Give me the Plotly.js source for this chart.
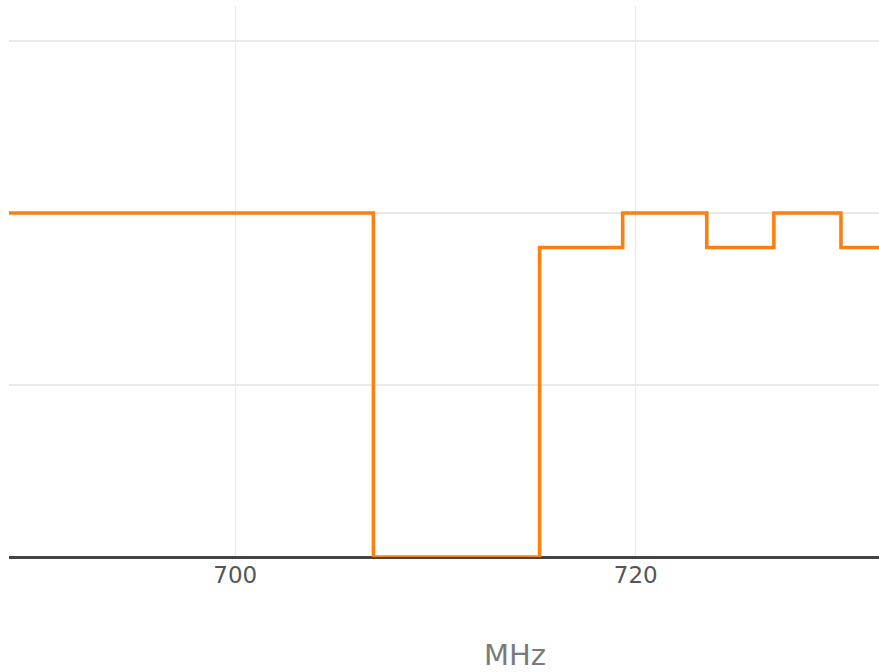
<!DOCTYPE html>
<html>
<head>
<meta charset="utf-8">
<script src="https://cdn.plot.ly/plotly-3.0.1.min.js"></script>
<style>html,body{margin:0;padding:0;background:#fff;}#chart{width:879px;height:672px;}</style>
</head>
<body>
<div id="chart"></div>
<script>
// Step edges (MHz) and levels
const freqMHz = [688, 706.9, 715.2, 719.35, 723.55, 726.9, 730.25, 734];
const level   = [10, 0, 9, 10, 9, 10, 9, 9];
const xTickVals = [700, 720];
const xTickText = ["700", "720"];
const xAxisTitle = "MHz";

const trace = {
  x: freqMHz,
  y: level,
  type: 'scatter',
  mode: 'lines',
  line: {shape: 'hv', color: '#ff7f0e', width: 3.6},
  hoverinfo: 'x+y'
};

const layout = {
  width: 879,
  height: 672,
  margin: {l: 9, r: 0, t: 6, b: 115},
  paper_bgcolor: '#fff',
  plot_bgcolor: '#fff',
  showlegend: false,
  font: {family: 'DejaVu Sans, Verdana, sans-serif'},
  xaxis: {
    range: [688.7, 732.15],
    tickvals: xTickVals,
    ticktext: xTickText,
    showgrid: true,
    gridcolor: '#e9e9e9',
    gridwidth: 1.5,
    zeroline: false,
    showline: false,
    ticks: '',
    ticklabelstandoff: 2,
    tickfont: {size: 23, color: '#555555'},
    automargin: false
  },
  yaxis: {
    range: [0, 16.02],
    dtick: 5,
    tick0: 0,
    showgrid: true,
    gridcolor: '#e9e9e9',
    gridwidth: 1.5,
    zeroline: true,
    zerolinecolor: '#444444',
    zerolinewidth: 3,
    showticklabels: false,
    ticks: '',
    automargin: false
  },
  annotations: [{
    text: xAxisTitle,
    xref: 'paper', yref: 'paper',
    x: 0.5816, y: -0.1778,
    xanchor: 'center', yanchor: 'middle',
    showarrow: false,
    font: {size: 29, color: '#7a7a7a', family: 'DejaVu Sans, Verdana, sans-serif'}
  }]
};

Plotly.newPlot('chart', [trace], layout, {displayModeBar: false, staticPlot: true});
</script>
</body>
</html>
